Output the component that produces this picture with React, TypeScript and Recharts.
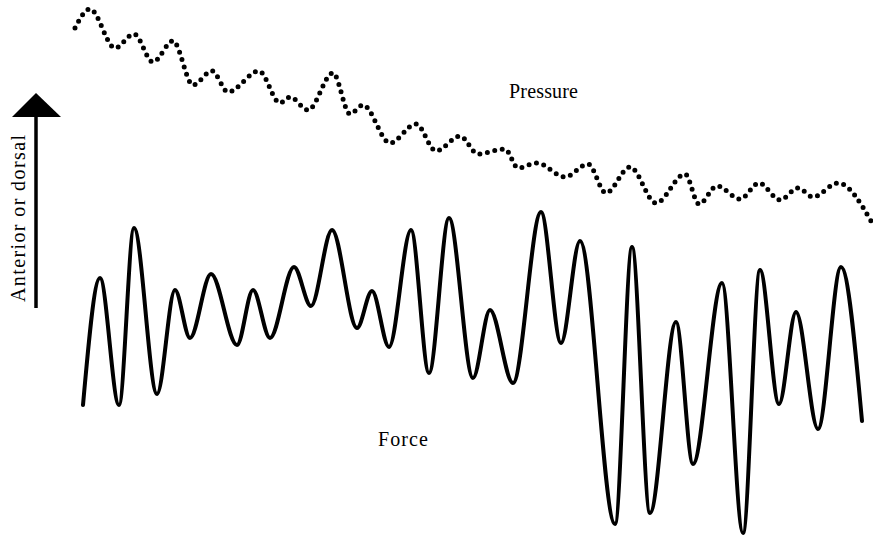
import React from "react";
import { LineChart, Line, XAxis, YAxis } from "recharts";

// Values are in figure units (x: time position, y: deflection, larger = lower on page)
const pressureX = [75, 90, 115, 134, 153, 173, 193, 212, 228, 259, 280, 290, 308, 333, 350, 363, 390, 416, 436, 460, 478, 505, 518, 537, 565, 588, 606, 630, 656, 685, 699, 717, 740, 759, 780, 798, 813, 838, 871];
const pressureY = [28, 9, 48, 34, 62, 41, 85, 71, 92, 71, 103, 97, 110, 73, 114, 105, 143, 124, 151, 136, 154, 149, 168, 163, 177, 164, 193, 167, 203, 174, 204, 186, 199, 183, 200, 188, 197, 183, 221];

const forceX = [83, 100, 119, 134, 157, 175, 190, 211, 237, 253, 270, 294, 311, 332, 357, 372, 389, 411, 429, 449, 473, 490, 513, 541, 561, 580, 615, 632, 650, 676, 693, 722, 743, 760, 779, 796, 818, 841, 862];
const forceY = [405, 278, 405, 228, 394, 290, 338, 274, 345, 290, 338, 267, 306, 230, 328, 291, 347, 230, 373, 218, 378, 310, 383, 212, 343, 241, 524, 247, 513, 322, 464, 283, 533, 270, 404, 312, 429, 267, 421];

const pressureData = pressureX.map((x, i) => ({ x, y: pressureY[i] }));
const forceData = forceX.map((x, i) => ({ x, y: forceY[i] }));

const W = 873;
const H = 538;
const font = "'Liberation Serif', 'Times New Roman', serif";

export default function App() {
  return (
    <div style={{ position: "absolute", left: 0, top: 0, width: W, height: H, background: "#fff" }}>
      <LineChart width={W} height={H} margin={{ top: 0, right: 0, bottom: 0, left: 0 }}>
        <XAxis type="number" dataKey="x" domain={[0, W]} hide allowDataOverflow />
        <YAxis type="number" dataKey="y" domain={[0, H]} reversed hide allowDataOverflow />
        <Line
          data={pressureData}
          dataKey="y"
          type="monotone"
          stroke="#000"
          strokeWidth={5}
          strokeDasharray="0 7.6"
          strokeLinecap="round"
          dot={false}
          activeDot={false}
          isAnimationActive={false}
        />
        <Line
          data={forceData}
          dataKey="y"
          type="monotone"
          stroke="#000"
          strokeWidth={4}
          strokeLinejoin="round"
          strokeLinecap="round"
          dot={false}
          activeDot={false}
          isAnimationActive={false}
        />
        <text x={509} y={98} textLength={69} lengthAdjust="spacing" fontFamily={font} fontSize={20} fill="#000">Pressure</text>
        <text x={378} y={446} textLength={50} lengthAdjust="spacing" fontFamily={font} fontSize={20} fill="#000">Force</text>
        <line x1={36} y1={115} x2={36} y2={308} stroke="#000" strokeWidth={3.5} />
        <polygon points="36,93 12,117 61,117" fill="#000" />
        <text
          x={0}
          y={0}
          transform="translate(25,302) rotate(-90)"
          textLength={167}
          lengthAdjust="spacing"
          fontFamily={font}
          fontSize={20}
          fill="#000"
        >
          Anterior or dorsal
        </text>
      </LineChart>
    </div>
  );
}
